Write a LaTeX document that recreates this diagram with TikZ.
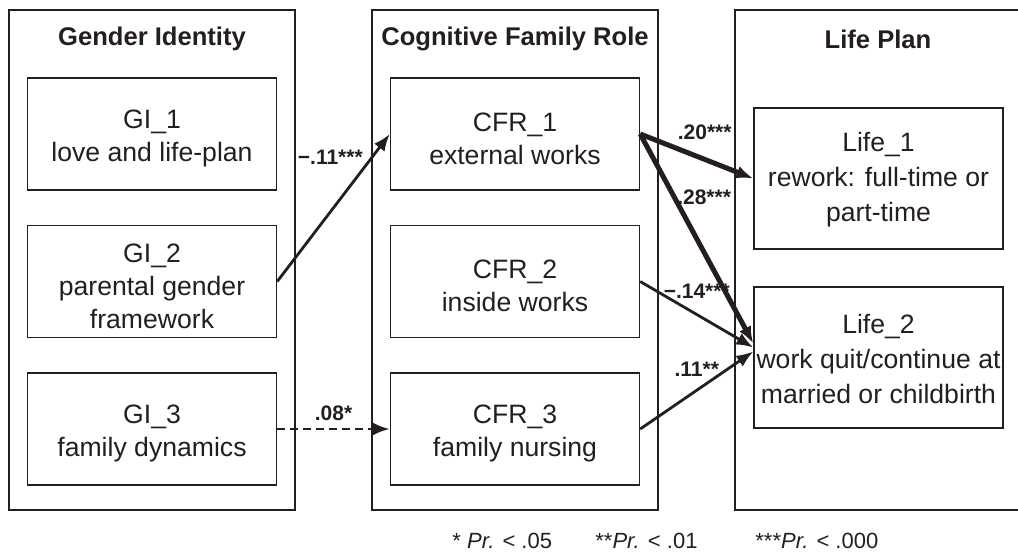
\documentclass[tikz,border=0pt]{standalone}
\usepackage{fontspec}
\setmainfont{Liberation Sans}
\usetikzlibrary{arrows.meta,positioning}
\definecolor{ink}{HTML}{231F20}
\newcommand\topgap[1]{\rule{0pt}{#1}}

\begin{document}
\begin{tikzpicture}[x=0.5pt, y=-0.5pt, node distance=73.75pt,
    every node/.append style={text=ink},
    >={Latex[length=8.5pt,width=6.5pt]},
    panel/.style={rectangle, draw=ink, line width=0.7pt, minimum width=143pt, minimum height=250pt, inner sep=0pt},
    title/.style={font=\fontsize{12.8}{15}\selectfont\bfseries},
    item/.style={rectangle, draw=ink, line width=0.7pt, minimum width=124.5pt, minimum height=56pt, align=center, inner sep=0pt, font=\fontsize{13.3}{16.5}\selectfont},
    plan/.style={item, minimum height=70.5pt, font=\fontsize{13.3}{17.5}\selectfont},
    coef/.style={font=\fontsize{10.5}{12}\selectfont\bfseries},
    note/.style={anchor=base west, inner sep=0pt, font=\fontsize{11}{13}\selectfont},
    link/.style={draw=ink, line width=1.4pt, ->}]

    \useasboundingbox (0,0) rectangle (1018,553);

    \node(gi)[panel] at (152,260) {};
    \node(cfr)[panel, right of=gi, node distance=181.5pt] {};
    \node(life)[panel, right of=cfr, node distance=181.5pt] {};

    \node(gi-title)[title] at ([yshift=-15pt]gi.north) {Gender Identity};
    \node(cfr-title)[title] at ([yshift=-15pt]cfr.north) {Cognitive Family Role};
    \node(life-title)[title] at ([yshift=-15pt]life.north) {Life Plan};

    \node(gi-1)[item] at (152,134) {\topgap{14pt}GI\_1\\love and life-plan};
    \node(gi-2)[item, below of=gi-1] {\topgap{14pt}GI\_2\\parental gender\\framework};
    \node(gi-3)[item, below of=gi-2] {\topgap{14pt}GI\_3\\family dynamics};

    \node(cfr-1)[item, right of=gi-1, node distance=181.5pt] {\topgap{14pt}CFR\_1\\external works};
    \node(cfr-2)[item, below of=cfr-1] {\topgap{14pt}CFR\_2\\inside works};
    \node(cfr-3)[item, below of=cfr-2] {\topgap{14pt}CFR\_3\\family nursing};

    \node(life-1)[plan] at (878.5,178.5) {\topgap{11pt}Life\_1\\rework: full-time or\\part-time};
    \node(life-2)[plan, below of=life-1, node distance=89.5pt] {\topgap{11pt}Life\_2\\work quit/continue at\\married or childbirth};

    \node(note-1)[note] at (452,548) {* \textit{Pr.} < .05};
    \node(note-2)[note] at (595,548) {**\textit{Pr.} < .01};
    \node(note-3)[note] at (755,548) {***\textit{Pr.} < .000};

    \draw[link] (gi-2.east) --node[coef, pos=0.84, left=0.5pt]{−.11***} (cfr-1.west);
    \draw[link, dash pattern=on 4pt off 2.5pt] (gi-3.east) --node[coef, above]{.08*} (cfr-3.west);
    \draw[link] (cfr-2.east) --node[coef, pos=0.5, above=4pt]{−.14***} ([yshift=5pt]life-2.west);
    \draw[link] (cfr-3.east) --node[coef, pos=0.5, above=3pt]{.11**} ([yshift=3pt]life-2.west);
    \draw[link, line width=2.5pt] (cfr-1.east) --node[coef, pos=0.57, above=5.5pt]{.20***} (life-1.west);
    \draw[link, line width=2.5pt] (cfr-1.east) --node[coef, pos=0.3, right=-3pt]{.28***} ([yshift=7pt]life-2.west);
  \end{tikzpicture}
\end{document}
